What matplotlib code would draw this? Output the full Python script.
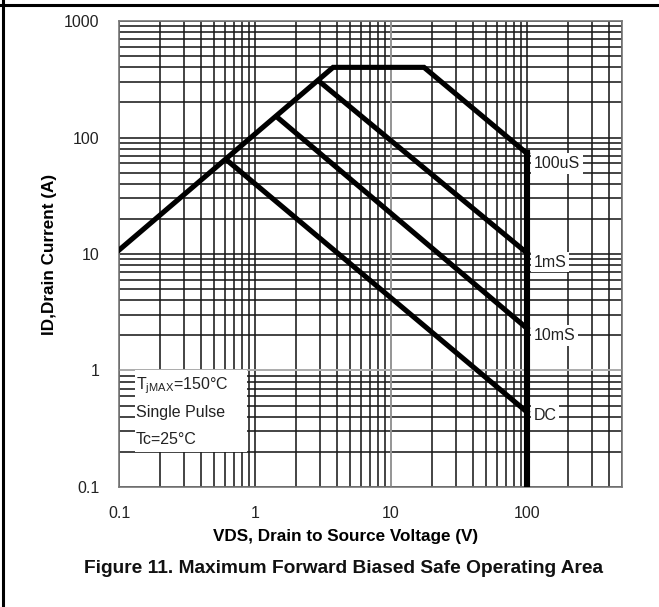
import numpy as np
import matplotlib
matplotlib.use('Agg')
import matplotlib.pyplot as plt
from matplotlib.lines import Line2D
from matplotlib.patches import Rectangle
from matplotlib.ticker import LogLocator, FixedLocator, FixedFormatter, NullFormatter

plt.rcParams['font.family'] = ['Liberation Sans', 'DejaVu Sans']

# SOA boundary (RDS(on) limit, current limit, 100us pulse) in V / A
vds_100us = [0.1, 3.75, 17.5, 100]
id_100us = [10.8, 400, 400, 73]
# pulse lines from the RDS(on) limit to VDS max
vds_1ms = [3.0, 100]
id_1ms = [300, 10.2]
vds_10ms = [1.45, 100]
id_10ms = [150, 2.3]
vds_dc = [0.62, 100]
id_dc = [64, 0.44]
vds_max = 100

curve_labels = ['100uS', '1mS', '10mS', 'DC']
label_y = [60, 8.5, 2.0, 0.41]

cond_lines = ['T$_{\\mathregular{jMAX}}$=150°C', 'Single Pulse', 'Tc=25°C']

x_ticks = [0.1, 1, 10, 100]
x_ticklabels = ['0.1', '1', '10', '100']
y_ticks = [0.1, 1, 10, 100, 1000]
y_ticklabels = ['0.1', '1', '10', '100', '1000']

fig = plt.figure(figsize=(6.59, 6.07), dpi=100)
ax = fig.add_axes([0.1806, 0.1977, 0.7633, 0.7677])
ax.set_xscale('log')
ax.set_yscale('log')
ax.set_xlim(0.1, 500)
ax.set_ylim(0.1, 1000)

ax.xaxis.set_major_locator(FixedLocator(x_ticks))
ax.xaxis.set_major_formatter(FixedFormatter(x_ticklabels))
ax.yaxis.set_major_locator(FixedLocator(y_ticks))
ax.yaxis.set_major_formatter(FixedFormatter(y_ticklabels))
ax.xaxis.set_minor_locator(LogLocator(base=10, subs=np.arange(2, 10), numticks=20))
ax.yaxis.set_minor_locator(LogLocator(base=10, subs=np.arange(2, 10), numticks=20))
ax.xaxis.set_minor_formatter(NullFormatter())
ax.yaxis.set_minor_formatter(NullFormatter())
ax.tick_params(which='both', length=0, labelsize=11.5, labelcolor='#222222', pad=14)

ax.grid(True, which='both', color='#1a1a1a', lw=1.15)
ax.set_axisbelow(True)
# the 1 A and 10 V lines are lighter on the original
ax.axhline(1, color='#b8b8b8', lw=1.3, zorder=1.5)
ax.axvline(10, color='#b0b0b0', lw=1.1, zorder=1.5)
for s in ax.spines.values():
    s.set_color('#777777')
    s.set_linewidth(1.2)

lw = 3.7
ax.plot(vds_100us, id_100us, color='black', lw=lw, solid_joinstyle='miter', zorder=4)
ax.plot(vds_1ms, id_1ms, color='black', lw=lw, zorder=4)
ax.plot(vds_10ms, id_10ms, color='black', lw=lw, zorder=4)
ax.plot(vds_dc, id_dc, color='black', lw=lw, zorder=4)
ax.plot([vds_max, vds_max], [id_100us[-1], 0.1], color='black', lw=4.4, zorder=4)

for lab, yv in zip(curve_labels, label_y):
    ax.text(vds_max * 1.12, yv, lab, fontsize=11.5, color='#222222', va='center', ha='left',
            bbox=dict(facecolor='white', edgecolor='none', pad=2), zorder=5)

# white block behind the test conditions
ax.add_patch(Rectangle((0.032, 0.075), 0.223, 0.176, transform=ax.transAxes,
                       facecolor='white', edgecolor='none', zorder=3))
for i, line in enumerate(cond_lines):
    ax.text(0.034, 0.218 - i * 0.058, line, transform=ax.transAxes, fontsize=11.5,
            color='#222222', va='center', ha='left', zorder=5)

ax.set_xlabel('VDS, Drain to Source Voltage (V)', fontsize=12.3, fontweight='bold')
ax.xaxis.set_label_coords(0.450, -0.09)
ax.set_ylabel('ID,Drain Current (A)', fontsize=12.3, fontweight='bold', labelpad=5)
fig.text(0.521, 0.063, 'Figure 11. Maximum Forward Biased Safe Operating Area',
         fontsize=13.8, fontweight='bold', ha='center', va='center', color='#111111')

# outer frame (top and left only)
fig.add_artist(Line2D([0, 1], [1 - 5 / 607, 1 - 5 / 607], color='black', lw=2.2, transform=fig.transFigure))
fig.add_artist(Line2D([3 / 659, 3 / 659], [0, 1], color='black', lw=2.2, transform=fig.transFigure))

fig.savefig('out.png', dpi=100)
